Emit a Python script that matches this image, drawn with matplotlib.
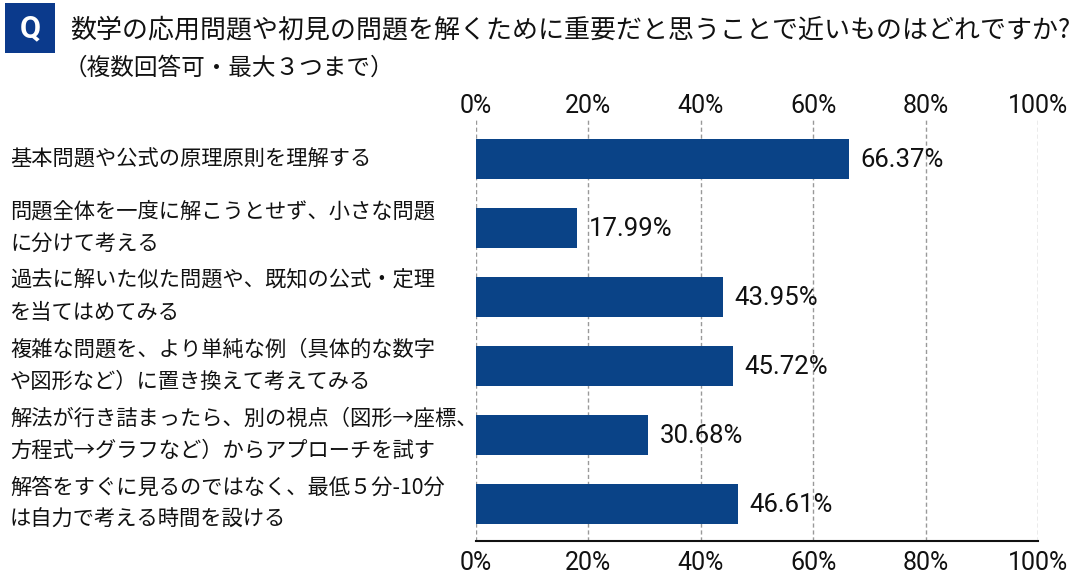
import matplotlib
matplotlib.use("Agg")
import matplotlib.pyplot as plt
from matplotlib.patches import Rectangle
from matplotlib.transforms import blended_transform_factory

categories = [
    "基本問題や公式の原理原則を理解する",
    "問題全体を一度に解こうとせず、小さな問題\nに分けて考える",
    "過去に解いた似た問題や、既知の公式・定理\nを当てはめてみる",
    "複雑な問題を、より単純な例（具体的な数字\nや図形など）に置き換えて考えてみる",
    "解法が行き詰まったら、別の視点（図形→座標、\n方程式→グラフなど）からアプローチを試す",
    "解答をすぐに見るのではなく、最低５分-10分\nは自力で考える時間を設ける",
]
values = [66.37, 17.99, 43.95, 45.72, 30.68, 46.61]
xticks = [0, 20, 40, 60, 80, 100]
xtick_labels = ["0%", "20%", "40%", "60%", "80%", "100%"]
title = "数学の応用問題や初見の問題を解くために重要だと思うことで近いものはどれですか?"
subtitle = "（複数回答可・最大３つまで）"

CJK = ['Noto Sans CJK JP', 'DejaVu Sans']
NUM = ['Roboto', 'DejaVu Sans']
BAR = '#0a4387'

W, H = 1080, 585
fig = plt.figure(figsize=(W / 100, H / 100), dpi=100)
ax = fig.add_axes([476 / W, 1 - 541 / H, (1038 - 476) / W, (541 - 118) / H])

ypos = list(range(len(categories)))
ax.barh(ypos, values, height=0.58, color=BAR, zorder=2)
ax.set_ylim(5.536, -0.594)
ax.set_xlim(0, 100)

for y, v in zip(ypos, values):
    ax.text(v + 2.0, y + 0.02, f"{v:.2f}%", va='center', ha='left',
            fontsize=18.5, family=NUM, color='#111111', zorder=3)

ax.set_xticks(xticks)
ax.set_xticklabels(xtick_labels, fontsize=18, family=NUM, color='#111111')
ax.tick_params(axis='x', length=0, pad=7, top=False, labeltop=False, bottom=False, labelbottom=True)
sec = ax.secondary_xaxis('top')
sec.set_xticks(xticks)
sec.set_xticklabels(xtick_labels, fontsize=18, family=NUM, color='#111111')
sec.tick_params(axis='x', length=0, pad=0)
sec.spines['top'].set_visible(False)

ax.set_yticks([])
ax.grid(axis='x', color='#999999', linestyle=(0, (3, 2)), linewidth=1.0, zorder=0)
ax.set_axisbelow(True)
for s in ['top', 'right', 'left']:
    ax.spines[s].set_visible(False)
ax.spines['bottom'].set_color('#111111')
ax.spines['bottom'].set_linewidth(1.5)

tr = blended_transform_factory(fig.transFigure, ax.transData)
for y, lab in zip(ypos, categories):
    ax.text(10 / W, y, lab, transform=tr, ha='left', va='center', fontsize=15.3,
            family=CJK, color='#111111', linespacing=1.6)

fig.patches.append(Rectangle((5 / W, 1 - 53 / H), 50 / W, 50 / H, transform=fig.transFigure,
                             facecolor='#0b3a8c', edgecolor='none'))
fig.text(30 / W, 1 - 28 / H, "Q", ha='center', va='center', fontsize=22, fontweight='bold',
         color='white', family=NUM)
fig.text(70 / W, 1 - 30 / H, title, ha='left', va='center', fontsize=18.7, family=CJK, color='#111111')
fig.text(64 / W, 1 - 68 / H, subtitle, ha='left', va='center', fontsize=17, family=CJK, color='#111111')

fig.savefig("out.png", dpi=100)
